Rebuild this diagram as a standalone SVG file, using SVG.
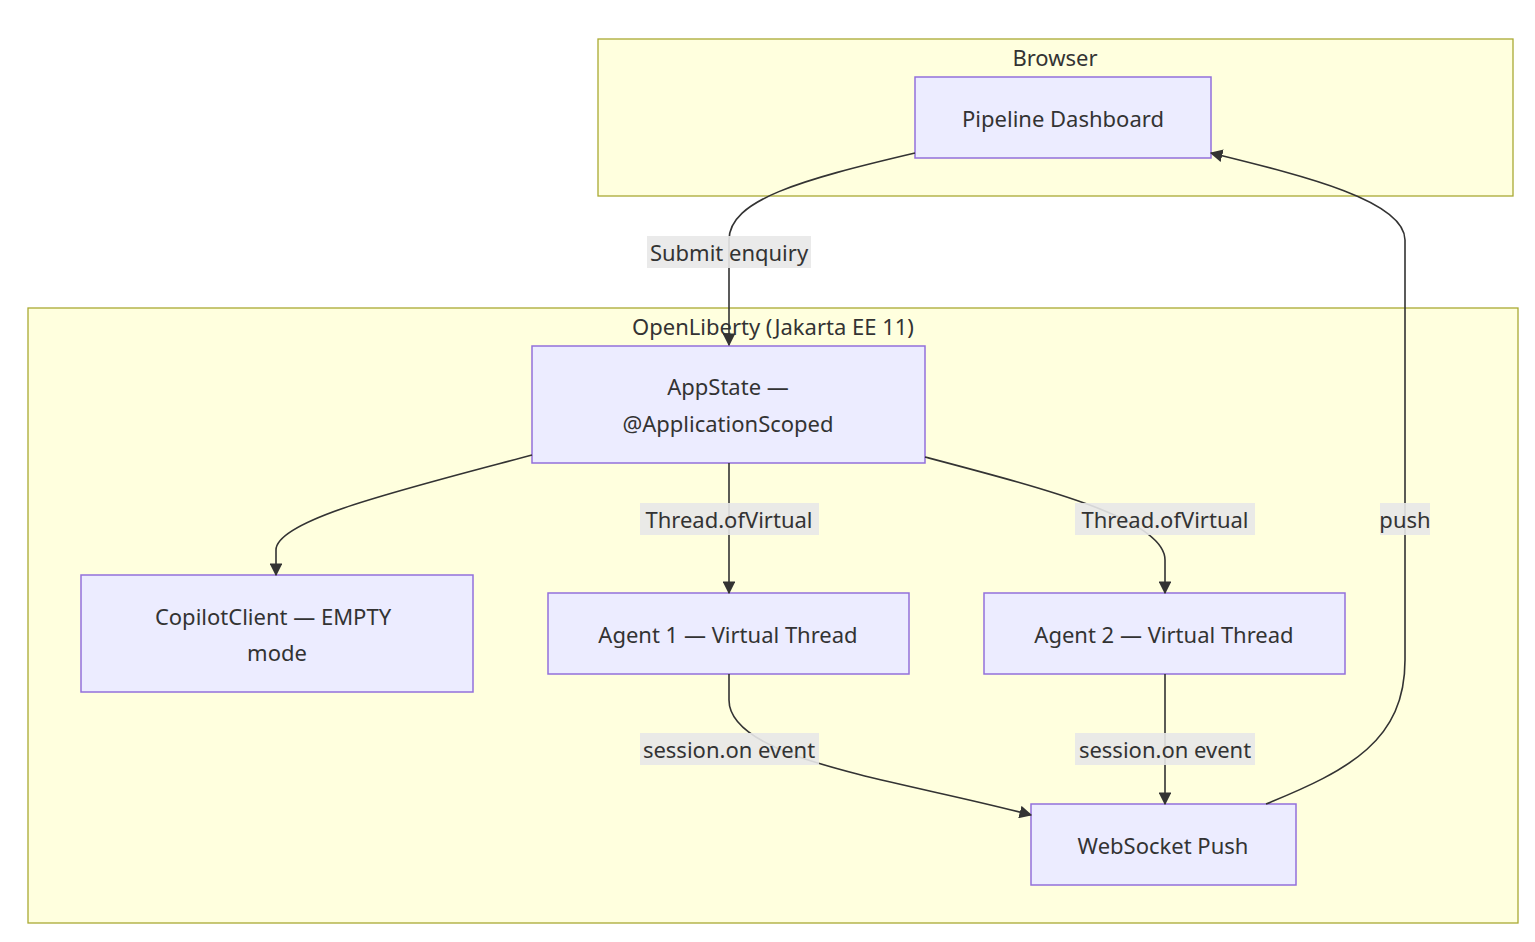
<svg xmlns="http://www.w3.org/2000/svg" width="1535" height="942" viewBox="0 0 1535 942">
<style>
.cl{fill:#ffffde;stroke:#aaaa33;stroke-width:1.3}
.nd{fill:#ececff;stroke:#9370db;stroke-width:1.5}
text{font-family:"Noto Sans","Open Sans",sans-serif;font-size:22px;fill:#333;text-anchor:middle;dominant-baseline:central}
.e{fill:none;stroke:#333;stroke-width:1.6;marker-end:url(#a)}
.lb{fill:#e8e8e8;opacity:0.9}
</style>
<defs><marker id="a" viewBox="0 0 10 10" refX="9" refY="5" markerWidth="8" markerHeight="8" orient="auto"><path d="M0,0L10,5L0,10z" fill="#333"/></marker></defs>
<rect width="1535" height="942" fill="#fff"/>
<g id="browser"><rect class="cl" x="598" y="39" width="915" height="157"/><text x="1055" y="57">Browser</text></g>
<g id="openliberty"><rect class="cl" x="28" y="308" width="1490" height="615"/><text x="773" y="326">OpenLiberty (Jakarta EE 11)</text></g>
<g id="dash"><rect class="nd" x="915" y="77" width="296" height="81"/><text x="1063" y="118">Pipeline Dashboard</text></g>
<g id="appstate"><rect class="nd" x="532" y="346" width="393" height="117"/><text x="728" y="386">AppState —</text><text x="728" y="423">@ApplicationScoped</text></g>
<g id="copilot"><rect class="nd" x="81" y="575" width="392" height="117"/><text x="273" y="616">CopilotClient — EMPTY</text><text x="277" y="652">mode</text></g>
<g id="agent1"><rect class="nd" x="548" y="593" width="361" height="81"/><text x="728" y="634">Agent 1 — Virtual Thread</text></g>
<g id="agent2"><rect class="nd" x="984" y="593" width="361" height="81"/><text x="1164" y="634">Agent 2 — Virtual Thread</text></g>
<g id="ws"><rect class="nd" x="1031" y="804" width="265" height="81"/><text x="1163" y="845">WebSocket Push</text></g>
<g id="edges">
<path class="e" d="M915,153C800,180 729,200 729,240L729,345"/>
<path class="e" d="M532,455C400,490 276,520 276,550L276,575"/>
<path class="e" d="M729,463L729,593"/>
<path class="e" d="M925,457C1050,490 1165,520 1165,560L1165,593"/>
<path class="e" d="M729,674L729,700C729,760 900,780 1031,815"/>
<path class="e" d="M1165,674L1165,804"/>
<path class="e" d="M1266,804C1350,770 1405,740 1405,660L1405,240C1405,200 1300,175 1211,153"/>
<rect class="lb" x="647" y="236" width="164" height="32"/><text x="729" y="252">Submit enquiry</text>
<rect class="lb" x="640" y="503" width="179" height="32"/><text x="729" y="519">Thread.ofVirtual</text>
<rect class="lb" x="1075" y="503" width="180" height="32"/><text x="1165" y="519">Thread.ofVirtual</text>
<rect class="lb" x="1380" y="503" width="50" height="32"/><text x="1405" y="519">push</text>
<rect class="lb" x="640" y="733" width="179" height="32"/><text x="729" y="749">session.on event</text>
<rect class="lb" x="1075" y="733" width="180" height="32"/><text x="1165" y="749">session.on event</text>
</g>
</svg>
